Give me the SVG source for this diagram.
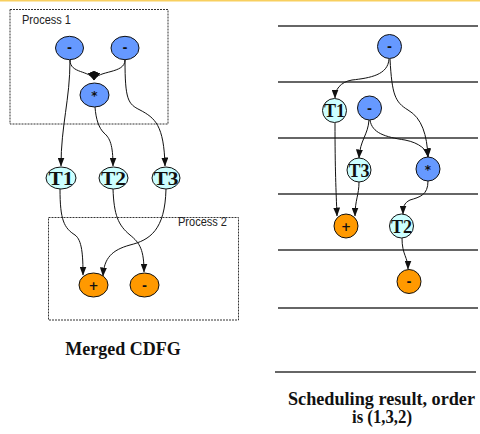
<svg xmlns="http://www.w3.org/2000/svg" width="480" height="434" viewBox="0 0 480 434">
  <style>
    .box { fill: none; stroke: #333; stroke-width: 1; stroke-dasharray: 2 1; }
    .lbl { font-family: "Liberation Sans", Arial, sans-serif; font-size: 12px; fill: #222; }
    .op { stroke: #111; stroke-width: 1; }
    .blue { fill: #6699ff; }
    .cyan { fill: #ccffff; }
    .orange { fill: #ff9900; }
    .sym { font-family: "DejaVu Sans", sans-serif; font-weight: bold; font-size: 12px; fill: #111; text-anchor: middle; }
    .tv { font-family: "Liberation Serif", serif; font-weight: bold; font-size: 18px; fill: #111; text-anchor: middle; }
    .edge { fill: none; stroke: #111; stroke-width: 1; marker-end: url(#arrow); }
    .slot { stroke: #333; stroke-width: 1.3; }
    .cap { font-family: "Liberation Serif", serif; font-weight: bold; font-size: 18px; fill: #111; text-anchor: middle; }
  </style>
  <defs>
    <marker id="arrow" markerUnits="userSpaceOnUse" markerWidth="9" markerHeight="7" refX="8.5" refY="3.5" orient="auto">
      <path d="M0,0 L9,3.5 L0,7 z" fill="#111"/>
    </marker>
  </defs>

  <rect x="0" y="0" width="480" height="434" fill="#fff"/>
  <line x1="0" y1="0.8" x2="480" y2="0.8" stroke="#f8cf5f" stroke-width="1.6"/>

  <!-- Process boxes of the merged graph -->
  <g id="process1">
    <rect class="box" x="10" y="9.5" width="158" height="114.5"/>
    <text class="lbl" x="22" y="24" textLength="49" lengthAdjust="spacingAndGlyphs">Process 1</text>
  </g>
  <g id="process2">
    <rect class="box" x="48.5" y="217.5" width="190" height="102.5"/>
    <text class="lbl" x="178" y="226" textLength="49" lengthAdjust="spacingAndGlyphs">Process 2</text>
  </g>

  <!-- Schedule step boundaries -->
  <g id="steps">
    <line class="slot" x1="278" y1="26" x2="478" y2="26"/>
    <line class="slot" x1="278" y1="82" x2="478" y2="82"/>
    <line class="slot" x1="278" y1="138" x2="478" y2="138"/>
    <line class="slot" x1="278" y1="194" x2="478" y2="194"/>
    <line class="slot" x1="278" y1="250" x2="478" y2="250"/>
    <line class="slot" x1="278" y1="308" x2="478" y2="308"/>
    <line class="slot" x1="275" y1="372" x2="476" y2="372"/>
  </g>

  <g id="connectors">
    <!-- merged CDFG -->
    <path class="edge" d="M70,60 C70,100 61,125 61,166"/>
    <path class="edge" d="M70,60 C70,74 90,70 94,80"/>
    <path class="edge" d="M125,60 C125,74 98,70 94,80"/>
    <path class="edge" d="M125,60 C125,100 128,104 140,110 C155,118 164,125 165,166"/>
    <path class="edge" d="M95,107 C96,120 99,128 104,133 C110,138 113,145 113,166"/>
    <path class="edge" d="M60,189 C60,220 64,228 75,235 C82,240 83,255 83,275"/>
    <path class="edge" d="M113,189 C114,215 118,225 130,235 C140,243 144,250 144,272"/>
    <path class="edge" d="M166,189 C165,230 150,240 130,245 C112,250 104,258 103,276"/>
    <!-- schedule -->
    <path class="edge" d="M389,59 C388,75 370,78 352,80 C340,82 335,90 335,98"/>
    <path class="edge" d="M390,59 C392,95 395,102 408,110 C422,118 427,135 428,157"/>
    <path class="edge" d="M369,120 C368,135 360,140 359,158"/>
    <path class="edge" d="M370,120 C372,133 385,137 405,140 C420,143 427,150 428,157"/>
    <path class="edge" d="M335,123 C335,170 336,190 337,216"/>
    <path class="edge" d="M359,182 C359,195 355,200 355,216"/>
    <path class="edge" d="M428,181 C428,195 420,197 410,200 C404,203 403,207 403,214"/>
    <path class="edge" d="M402,238 C402,255 408,257 408,269"/>
  </g>

  <!-- merged CDFG nodes -->
  <g id="m_sub1"><ellipse class="op blue" cx="69.5" cy="48" rx="14" ry="11.7"/><text class="sym" x="69.5" y="52">-</text></g>
  <g id="m_sub2"><ellipse class="op blue" cx="125" cy="48" rx="14" ry="11.7"/><text class="sym" x="125" y="52">-</text></g>
  <g id="m_mul"><ellipse class="op blue" cx="94.5" cy="95" rx="14.5" ry="12"/><text class="sym" x="94.5" y="100">*</text></g>
  <g id="m_t1"><ellipse class="op cyan" cx="61" cy="178" rx="15" ry="11"/><text class="tv" x="61" y="184.5" textLength="25" lengthAdjust="spacingAndGlyphs">T1</text></g>
  <g id="m_t2"><ellipse class="op cyan" cx="113.5" cy="178" rx="14.5" ry="11"/><text class="tv" x="113.5" y="184.5" textLength="25" lengthAdjust="spacingAndGlyphs">T2</text></g>
  <g id="m_t3"><ellipse class="op cyan" cx="166" cy="178" rx="14" ry="11"/><text class="tv" x="166" y="184.5" textLength="25" lengthAdjust="spacingAndGlyphs">T3</text></g>
  <g id="m_add"><ellipse class="op orange" cx="93.5" cy="285" rx="14.5" ry="12"/><text class="sym" x="93.5" y="290" font-weight="normal" font-size="14">+</text></g>
  <g id="m_sub3"><ellipse class="op orange" cx="144.5" cy="285" rx="14.5" ry="12"/><text class="sym" x="144.5" y="289.5">-</text></g>

  <!-- scheduled nodes -->
  <g id="s_sub1"><circle class="op blue" cx="389.5" cy="46.5" r="12"/><text class="sym" x="389.5" y="51">-</text></g>
  <g id="s_t1"><circle class="op cyan" cx="334.5" cy="110.5" r="12"/><text class="tv" x="334.5" y="117">T1</text></g>
  <g id="s_sub2"><circle class="op blue" cx="369.5" cy="108" r="12"/><text class="sym" x="369.5" y="112.5">-</text></g>
  <g id="s_t3"><circle class="op cyan" cx="359" cy="170" r="12"/><text class="tv" x="359" y="176.5">T3</text></g>
  <g id="s_mul"><circle class="op blue" cx="428" cy="169" r="12"/><text class="sym" x="428" y="174">*</text></g>
  <g id="s_add"><circle class="op orange" cx="346" cy="226" r="12"/><text class="sym" x="346" y="231" font-weight="normal" font-size="14">+</text></g>
  <g id="s_t2"><circle class="op cyan" cx="401.5" cy="226" r="12"/><text class="tv" x="401.5" y="232.5">T2</text></g>
  <g id="s_sub3"><circle class="op orange" cx="409" cy="281.5" r="12"/><text class="sym" x="409" y="286">-</text></g>

  <!-- captions -->
  <text class="cap" x="123" y="355">Merged CDFG</text>
  <text class="cap" x="381.5" y="404.5" font-size="16" textLength="187" lengthAdjust="spacingAndGlyphs">Scheduling result, order</text>
  <text class="cap" x="382" y="423" font-size="16" textLength="60" lengthAdjust="spacingAndGlyphs">is (1,3,2)</text>
</svg>
